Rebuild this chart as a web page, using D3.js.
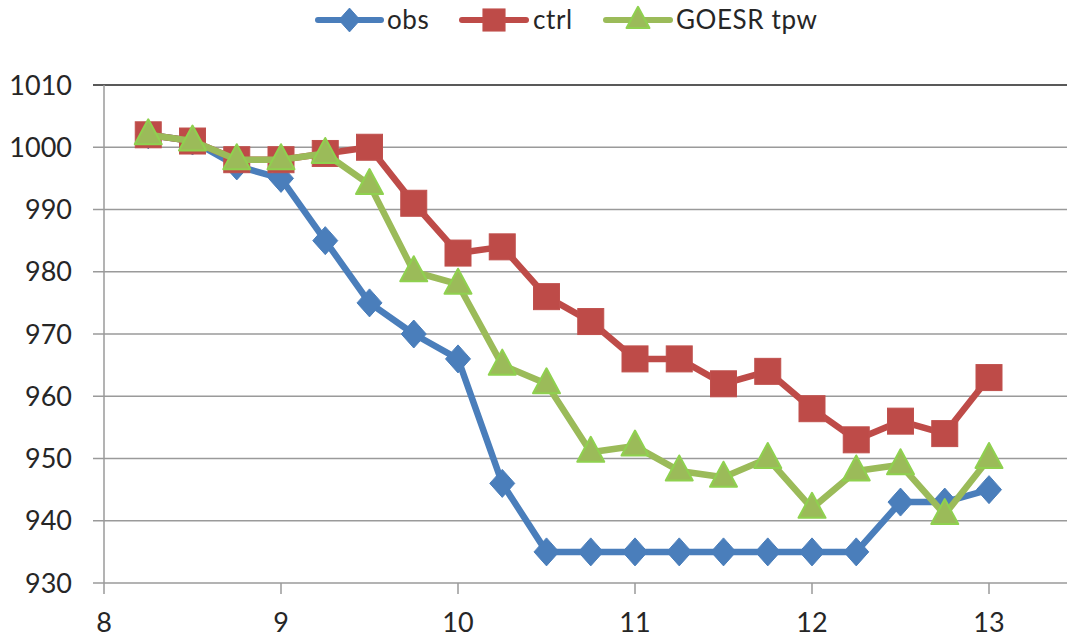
<!DOCTYPE html>
<html>
<head>
<meta charset="utf-8">
<script src="https://cdn.jsdelivr.net/npm/d3@7"></script>
<style>
  body { margin: 0; background: #fff; }
  svg { display: block; }
  text { font-family: Lato, "Open Sans", sans-serif; fill: #262626; }
</style>
</head>
<body>
<svg id="chart" width="1067" height="638"></svg>
<script>
// Time axis (day) and sea-level pressure (hPa) for each run
const times = [8.25, 8.5, 8.75, 9, 9.25, 9.5, 9.75, 10, 10.25, 10.5, 10.75, 11, 11.25, 11.5, 11.75, 12, 12.25, 12.5, 12.75, 13];
const obs   = [1002, 1001, 997, 995, 985, 975, 970, 966, 946, 935, 935, 935, 935, 935, 935, 935, 935, 943, 943, 945];
const ctrl  = [1002, 1001, 998, 998, 999, 1000, 991, 983, 984, 976, 972, 966, 966, 962, 964, 958, 953, 956, 954, 963];
const goesr = [1002, 1001, 998, 998, 999, 994, 980, 978, 965, 962, 951, 952, 948, 947, 950, 942, 948, 949, 941, 950];
const xTicks = [8, 9, 10, 11, 12, 13];
const yTicks = [930, 940, 950, 960, 970, 980, 990, 1000, 1010];

const seriesList = [
  { name: "obs", values: obs, color: "#4a7ebb", marker: "diamond" },
  { name: "ctrl", values: ctrl, color: "#be4b48", marker: "square" },
  { name: "GOESR tpw", values: goesr, color: "#9bbb59", marker: "triangle" }
];

const svg = d3.select("#chart");
const plotLeft = 104, plotTop = 85, plotBottom = 583;
const x = d3.scaleLinear().domain([8, 13.5]).range([plotLeft, plotLeft + 5.5 * 177]);
const y = d3.scaleLinear().domain([930, 1010]).range([plotBottom, plotTop]);

// horizontal gridlines
svg.append("g").selectAll("line").data(yTicks).join("line")
  .attr("x1", plotLeft - 11).attr("x2", 1067)
  .attr("y1", d => y(d)).attr("y2", d => y(d))
  .attr("stroke", d => d === 1010 ? "#222" : "#9a9a9a")
  .attr("stroke-width", 1.5);

// y axis line
svg.append("line").attr("x1", plotLeft).attr("x2", plotLeft)
  .attr("y1", plotTop).attr("y2", plotBottom + 11)
  .attr("stroke", "#9a9a9a").attr("stroke-width", 1.5);

// x ticks
svg.append("g").selectAll("line").data(xTicks.slice(1)).join("line")
  .attr("x1", d => x(d)).attr("x2", d => x(d))
  .attr("y1", plotBottom).attr("y2", plotBottom + 11)
  .attr("stroke", "#9a9a9a").attr("stroke-width", 1.5);

svg.append("g").selectAll("text").data(yTicks).join("text")
  .attr("x", 72).attr("y", d => y(d)).attr("dy", "0.36em")
  .attr("text-anchor", "end").attr("font-size", 27).text(d => d);

svg.append("g").selectAll("text").data(xTicks).join("text")
  .attr("x", d => x(d)).attr("y", 622).attr("dy", "0.36em")
  .attr("text-anchor", "middle").attr("font-size", 27).text(d => d);

function drawMarker(g, type, color, cx, cy, scale = 1) {
  if (type === "diamond") {
    const rx = 12.5 * scale, ry = 14 * scale;
    g.append("path").attr("d", `M${cx},${cy - ry}L${cx + rx},${cy}L${cx},${cy + ry}L${cx - rx},${cy}Z`)
      .attr("fill", color).attr("stroke", color).attr("stroke-width", 1);
  } else if (type === "square") {
    const s = 26 * scale;
    g.append("rect").attr("x", cx - s / 2).attr("y", cy - s / 2).attr("width", s).attr("height", s)
      .attr("fill", color).attr("stroke", "#c0504d").attr("stroke-width", 1);
  } else {
    const h = 25 * scale, w = 27 * scale;
    g.append("path").attr("d", `M${cx},${cy - h * 0.62}L${cx + w / 2},${cy + h * 0.38}L${cx - w / 2},${cy + h * 0.38}Z`)
      .attr("fill", color).attr("stroke", "#8fd14f").attr("stroke-width", 2).attr("stroke-linejoin", "round");
  }
}

const line = d3.line().x(d => x(d[0])).y(d => y(d[1]));
seriesList.forEach(s => {
  const pts = times.map((t, i) => [t, s.values[i]]);
  const g = svg.append("g");
  g.append("path").datum(pts).attr("d", line)
    .attr("fill", "none").attr("stroke", s.color).attr("stroke-width", 6.5)
    .attr("stroke-linejoin", "round");
  pts.forEach(p => drawMarker(g, s.marker, s.color, x(p[0]), y(p[1])));
});

// legend
const legendPos = [
  { x0: 318, x1: 381, tx: 387 },
  { x0: 462, x1: 526, tx: 533 },
  { x0: 606, x1: 670, tx: 676 }
];
const ly = 20;
seriesList.forEach((s, i) => {
  const p = legendPos[i];
  const g = svg.append("g");
  g.append("line").attr("x1", p.x0).attr("x2", p.x1).attr("y1", ly).attr("y2", ly)
    .attr("stroke", s.color).attr("stroke-width", 6).attr("stroke-linecap", "round");
  drawMarker(g, s.marker, s.color, (p.x0 + p.x1) / 2, ly, 0.85);
  g.append("text").attr("x", p.tx).attr("y", 29)
    .attr("font-size", 26).attr("letter-spacing", 0.6).text(s.name);
});
</script>
</body>
</html>
